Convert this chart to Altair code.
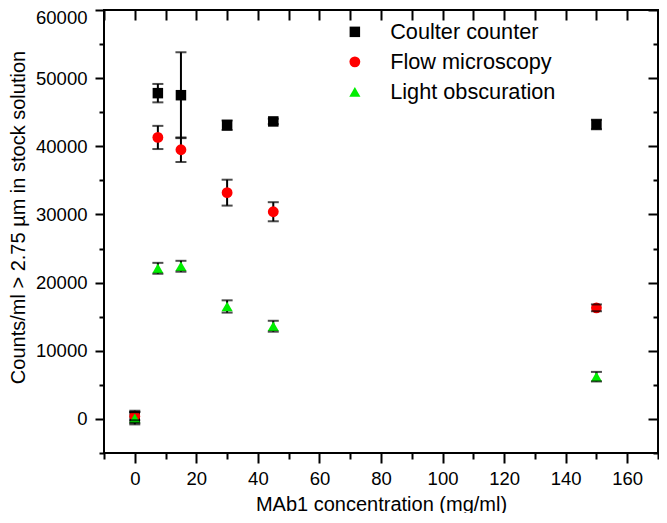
import altair as alt
import pandas as pd

conc = [0, 7.5, 15, 30, 45, 150]
series_names = ["Coulter counter", "Flow microscopy", "Light obscuration"]
coulter = [300, 47800, 47500, 43100, 43650, 43200]
coulter_err = [900, 1350, 6300, 700, 400, 700]
flow = [400, 41300, 39500, 33200, 30400, 16300]
flow_err = [600, 1700, 1800, 1900, 1400, 500]
light = [100, 22100, 22400, 16500, 13600, 6200]
light_err = [900, 800, 800, 900, 800, 700]
colors = ["#000000", "#ff0000", "#00ee00"]
shapes = ["square", "circle", "triangle-up"]
sizes = [110, 125, 170]
x_ticks = list(range(-10, 171, 10))
y_ticks = list(range(-5000, 60001, 5000))

rows = []
for name, vals, errs in zip(series_names, [coulter, flow, light], [coulter_err, flow_err, light_err]):
    for x, v, e in zip(conc, vals, errs):
        rows.append({"series": name, "conc": x, "count": v, "lo": v - e, "hi": v + e})
df = pd.DataFrame(rows)

FONT = "Liberation Sans"
xscale = alt.Scale(domain=[-10, 170], nice=False, zero=False)
yscale = alt.Scale(domain=[-5000, 60000], nice=False, zero=False)

x_bottom = alt.Axis(
    values=x_ticks, labelExpr="datum.value % 20 === 0 ? datum.label : ''",
    tickSize={"condition": {"test": "datum.value % 20 !== 0", "value": 6}, "value": 10},
    labelPadding=6, labelOverlap=False, labelFlush=False, grid=False, domain=False,
    title="MAb1 concentration (mg/ml)", titleY=41, titleBaseline="top",
)
y_left = alt.Axis(
    values=y_ticks, format="d", labelExpr="datum.value % 10000 === 0 ? datum.label : ''",
    tickSize={"condition": {"test": "datum.value % 10000 !== 0", "value": 5}, "value": 9},
    labelOffset={"condition": {"test": "datum.value === 60000", "value": 7}, "value": 0},
    labelPadding=8, labelOverlap=False, labelFlush=False, grid=False, domain=False,
    title="Counts/ml > 2.75 \u00b5m in stock solution", titleX=-76, titleY=207,
)
x_top = alt.Axis(orient="top", values=x_ticks, labels=False, tickSize=10, offset=-10,
                 grid=False, domain=False, title=None)
y_right = alt.Axis(
    orient="right", values=y_ticks, labels=False, tickSize=10, offset=-10,
    tickDash={"condition": {"test": "datum.value % 10000 !== 0", "value": [0, 5, 5, 0]}, "value": [10, 0]},
    grid=False, domain=False, title=None,
)

rules = alt.Chart(df).mark_rule(color="black", strokeWidth=2).encode(
    x=alt.X("conc:Q", scale=xscale, axis=x_bottom),
    y=alt.Y("lo:Q", scale=yscale, axis=y_left),
    y2="hi:Q",
)

points = alt.Chart(df).mark_point(filled=True, opacity=1, strokeWidth=0).encode(
    x=alt.X("conc:Q", scale=xscale, axis=x_top),
    y=alt.Y("count:Q", scale=yscale, axis=y_right),
    color=alt.Color("series:N", scale=alt.Scale(domain=series_names, range=colors),
                    sort=series_names, legend=alt.Legend(title=None)),
    shape=alt.Shape("series:N", scale=alt.Scale(domain=series_names, range=shapes),
                    sort=series_names, legend=alt.Legend(title=None)),
    size=alt.Size("series:N", scale=alt.Scale(domain=series_names, range=sizes), legend=None),
)

caps = alt.Chart(df).transform_fold(["lo", "hi"], as_=["which", "yv"]).mark_tick(
    orient="horizontal", size=11, thickness=2, color="black"
).encode(
    x=alt.X("conc:Q", scale=xscale, axis=None),
    y=alt.Y("yv:Q", scale=yscale, axis=None),
)

chart = alt.layer(rules, points, caps).resolve_axis(
    x="independent", y="independent"
).properties(
    width=554, height=443,
    autosize=alt.AutoSizeParams(type="none"),
    padding={"left": 96, "top": 2, "right": 1, "bottom": 60},
).configure_view(
    stroke="black", strokeWidth=2
).configure_axis(
    tickColor="black", tickWidth=2, labelColor="black", titleColor="black",
    labelFont=FONT, titleFont=FONT, labelFontSize=18.5, titleFontSize=20,
    titleFontWeight="normal",
).configure_legend(
    orient="none", legendX=240, legendY=11, padding=0,
    labelFont=FONT, labelFontSize=21.7, labelColor="black", labelLimit=400,
    symbolSize=100, labelOffset=24.5, rowPadding=7, symbolStrokeWidth=0,
)

chart.save("out.html", embed_options={"renderer": "svg", "actions": False})
